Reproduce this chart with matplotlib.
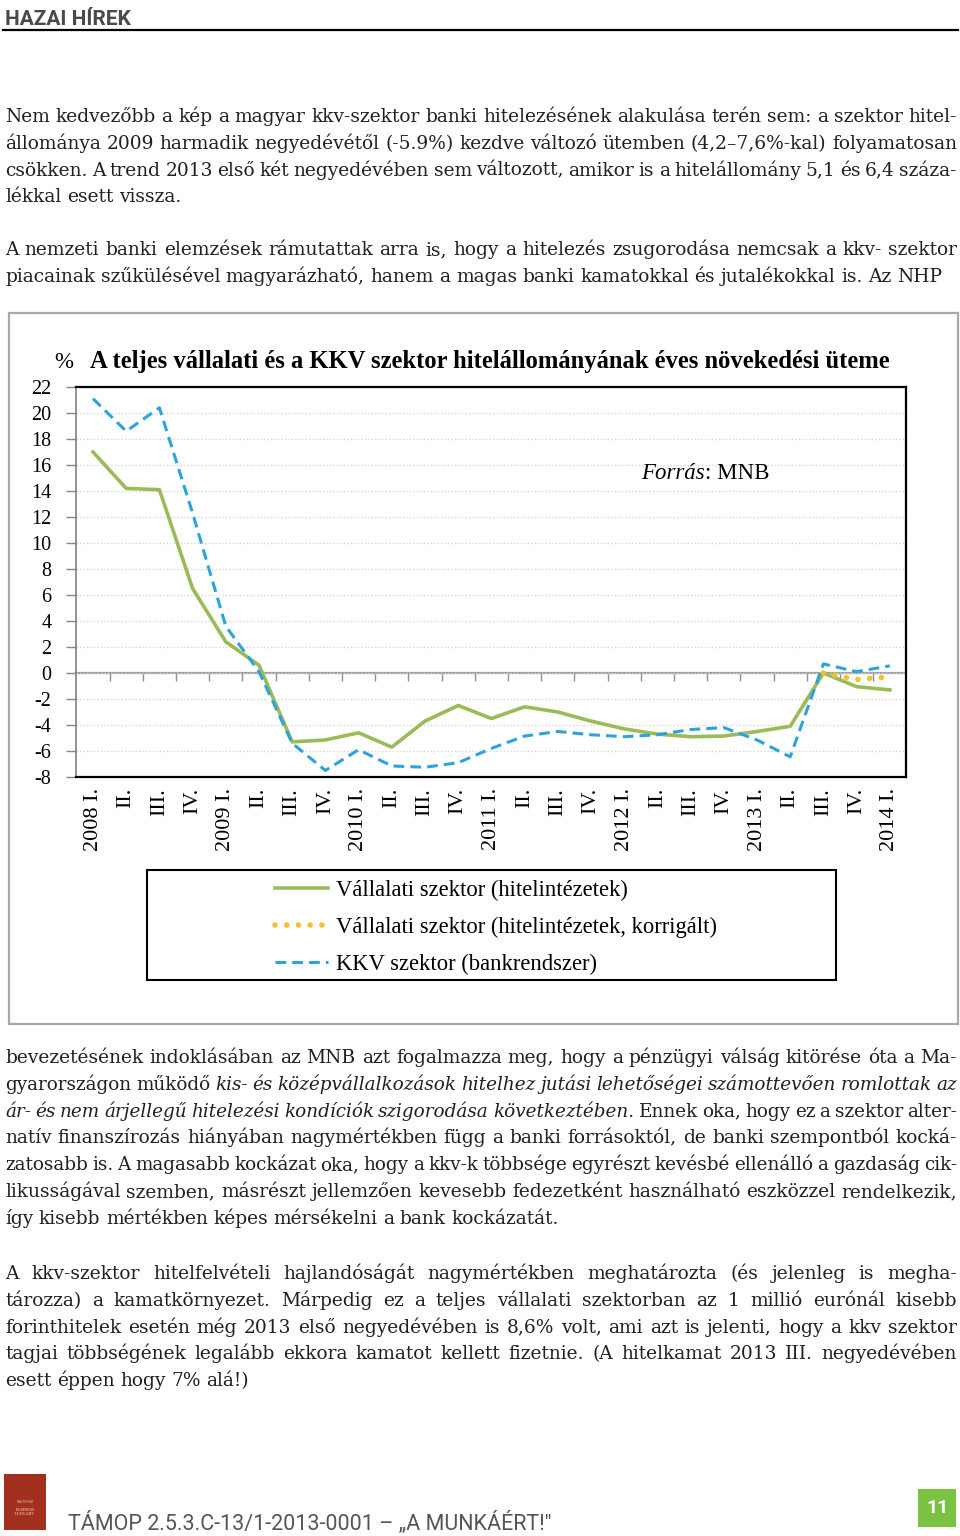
import matplotlib
matplotlib.use("Agg")
import matplotlib.pyplot as plt
from matplotlib.patches import Rectangle
from matplotlib.lines import Line2D
import numpy as np

W, H = 960, 1536

quarters = ["2008 I.", "II.", "III.", "IV.", "2009 I.", "II.", "III.", "IV.",
            "2010 I.", "II.", "III.", "IV.", "2011 I.", "II.", "III.", "IV.",
            "2012 I.", "II.", "III.", "IV.", "2013 I.", "II.", "III.", "IV.", "2014 I."]
vallalati = [17.0, 14.2, 14.1, 6.5, 2.4, 0.6, -5.3, -5.15, -4.6, -5.7, -3.7, -2.5, -3.5,
             -2.6, -3.0, -3.7, -4.3, -4.7, -4.9, -4.85, -4.5, -4.1, 0.0, -1.05, -1.3]
korrigalt_idx = [22, 23, 24]
korrigalt = [0.0, -0.5, -0.3]
kkv = [21.1, 18.6, 20.4, 12.3, 3.6, 0.1, -5.4, -7.5, -5.9, -7.15, -7.25, -6.9, -5.8,
       -4.85, -4.5, -4.75, -4.9, -4.75, -4.35, -4.2, -5.15, -6.45, 0.7, 0.1, 0.55]
series_labels = ["Vállalati szektor (hitelintézetek)",
                 "Vállalati szektor (hitelintézetek, korrigált)",
                 "KKV szektor (bankrendszer)"]
y_ticks = list(range(-8, 23, 2))

chart_title = "A teljes vállalati és a KKV szektor hitelállományának éves növekedési üteme"

# body text: each line is a list of (text, italic) pieces
para1 = [
    [("Nem kedvezőbb a kép a magyar kkv-szektor banki hitelezésének alakulása terén sem: a szektor hitel-", False)],
    [("állománya 2009 harmadik negyedévétől (-5.9%) kezdve változó ütemben (4,2–7,6%-kal) folyamatosan", False)],
    [("csökken. A trend 2013 első két negyedévében sem változott, amikor is a hitelállomány 5,1 és 6,4 száza-", False)],
    [("lékkal esett vissza.", False)],
]
para2 = [
    [("A nemzeti banki elemzések rámutattak arra is, hogy a hitelezés zsugorodása nemcsak a kkv- szektor", False)],
    [("piacainak szűkülésével magyarázható, hanem a magas banki kamatokkal és jutalékokkal is. Az NHP", False)],
]
para3 = [
    [("bevezetésének indoklásában az MNB azt fogalmazza meg, hogy a pénzügyi válság kitörése óta a Ma-", False)],
    [("gyarországon működő", False), ("kis- és középvállalkozások hitelhez jutási lehetőségei számottevően romlottak az", True)],
    [("ár- és nem árjellegű hitelezési kondíciók szigorodása következtében.", True), ("Ennek oka, hogy ez a szektor alter-", False)],
    [("natív finanszírozás hiányában nagymértékben függ a banki forrásoktól, de banki szempontból kocká-", False)],
    [("zatosabb is. A magasabb kockázat oka, hogy a kkv-k többsége egyrészt kevésbé ellenálló a gazdaság cik-", False)],
    [("likusságával szemben, másrészt jellemzően kevesebb fedezetként használható eszközzel rendelkezik,", False)],
    [("így kisebb mértékben képes mérsékelni a bank kockázatát.", False)],
]
para4 = [
    [("A kkv-szektor hitelfelvételi hajlandóságát nagymértékben meghatározta (és jelenleg is megha-", False)],
    [("tározza) a kamatkörnyezet. Márpedig ez a teljes vállalati szektorban az 1 millió eurónál kisebb", False)],
    [("forinthitelek esetén még 2013 első negyedévében is 8,6% volt, ami azt is jelenti, hogy a kkv szektor", False)],
    [("tagjai többségének legalább ekkora kamatot kellett fizetnie. (A hitelkamat 2013 III. negyedévében", False)],
    [("esett éppen hogy 7% alá!)", False)],
]


def fx(x):
    return x / W


def fy(y):
    return 1 - y / H


def draw_line(fig, r, pieces, y, justify, size=13.4, x0=5, x1=957):
    words = []
    for txt, it in pieces:
        for w in txt.split():
            words.append((w, it))
    arts = []
    for w, it in words:
        t = fig.text(0, fy(y), w, fontsize=size, family="DejaVu Serif",
                     style="italic" if it else "normal", color="#231f20",
                     va="baseline", ha="left")
        arts.append(t)
    widths = [t.get_window_extent(r).width for t in arts]
    space = size * 100 / 72 * 0.3
    if justify and len(arts) > 1:
        gap = (x1 - x0 - sum(widths)) / (len(arts) - 1)
        # squeeze the font a bit if the words do not fit
        while gap < size * 100 / 72 * 0.2:
            size *= 0.985
            for t in arts:
                t.set_fontsize(size)
            widths = [t.get_window_extent(r).width for t in arts]
            gap = (x1 - x0 - sum(widths)) / (len(arts) - 1)
    else:
        gap = space
    x = x0
    for t, w in zip(arts, widths):
        t.set_x(fx(x))
        x += w + gap


def draw_para(fig, r, lines, y0, step=26.8):
    for i, pieces in enumerate(lines):
        draw_line(fig, r, pieces, y0 + i * step, justify=(i < len(lines) - 1))


fig = plt.figure(figsize=(W / 100, H / 100), dpi=100)
r = fig.canvas.get_renderer()

# header
fig.text(fx(5), fy(25), "HAZAI HÍREK", fontsize=15, family="Roboto", weight="bold",
         color="#4a4a4a", va="baseline", ha="left")
fig.add_artist(Line2D([fx(3), fx(958)], [fy(29.5), fy(29.5)], color="black", lw=1.6))

draw_para(fig, r, para1, 122)
draw_para(fig, r, para2, 255)
draw_para(fig, r, para3, 1063)
draw_para(fig, r, para4, 1279)

# chart frame
fig.add_artist(Rectangle((fx(9), fy(1024)), 949 / W, 711 / H, transform=fig.transFigure,
                         fill=False, edgecolor="#a8a8a8", lw=1.6))

fig.text(fx(54), fy(368), "%", fontsize=16.5, family="Liberation Serif", va="baseline", ha="left")
fig.text(fx(90), fy(368), chart_title, fontsize=17.7, family="Liberation Serif", weight="bold",
         va="baseline", ha="left")

ax = fig.add_axes([fx(76.4), fy(777), 830 / W, 390 / H])
x = np.arange(len(quarters))
l1, = ax.plot(x, vallalati, color="#9bbb59", lw=2.6, zorder=3, label=series_labels[0])
l2, = ax.plot(korrigalt_idx, korrigalt, color="#f2c12e", lw=4.0, linestyle=(0, (0.01, 2.1)),
              dash_capstyle="round", zorder=4, label=series_labels[1])
l3, = ax.plot(x, kkv, color="#2ea3d9", lw=2.2, linestyle=(0, (3.5, 2)), zorder=5,
              label=series_labels[2])

ax.set_xlim(-0.5, 24.5)
ax.set_ylim(-8, 22)
ax.set_yticks(y_ticks, [str(v) for v in y_ticks])
ax.set_xticks(x, quarters, rotation=90)
for lab in ax.get_xticklabels() + ax.get_yticklabels():
    lab.set_family("Liberation Serif")
ax.tick_params(axis="y", length=7, width=1, color="#888888", pad=11, labelsize=14.5)
ax.tick_params(axis="x", length=0, pad=8, labelsize=16)
ax.grid(axis="y", color="#d6d6d6", lw=1, linestyle=(0, (1, 1.5)), zorder=1)
ax.set_axisbelow(True)
for s in ["top", "right", "bottom"]:
    ax.spines[s].set_color("black")
    ax.spines[s].set_linewidth(1.6)
ax.spines["left"].set_color("#808080")
ax.spines["left"].set_linewidth(1.2)

# zero line with the quarter separators
sec = ax.secondary_xaxis(8 / 30)
sec.set_xticks(np.arange(0.5, 24, 1))
sec.set_xticklabels([])
sec.tick_params(length=6, width=1, color="#909090", direction="out")
sec.spines["bottom"].set_color("#a0a0a0")
sec.spines["bottom"].set_linewidth(1.6)

# source note
t1 = fig.text(fx(641), fy(479), "Forrás", fontsize=16.5, family="Liberation Serif",
              style="italic", va="baseline", ha="left")
w1 = t1.get_window_extent(r).width
fig.text(fx(641 + w1), fy(479), ": MNB", fontsize=16.5, family="Liberation Serif",
         va="baseline", ha="left")

# legend
fig.add_artist(Rectangle((fx(147), fy(980)), 689 / W, 110 / H, transform=fig.transFigure,
                         fill=False, edgecolor="black", lw=1.5))
fig.legend(handles=[l1, l2, l3], loc="upper left", bbox_to_anchor=(fx(275), fy(880)),
           frameon=False, borderpad=0, borderaxespad=0, handlelength=2.35, handletextpad=0.35,
           labelspacing=0.69, prop={"family": "Liberation Serif", "size": 16.3})

# footer
fig.add_artist(Rectangle((fx(4), fy(1530)), 42 / W, 56 / H, transform=fig.transFigure,
                         facecolor="#a3301f", edgecolor="none"))
fig.text(fx(25), fy(1508), "MGYOSZ\n\nBUSINESS\nHUNGARY", fontsize=3, color="#f3dcc8",
         ha="center", va="center", family="Liberation Serif", linespacing=1.1)
fig.text(fx(68), fy(1529), "TÁMOP 2.5.3.C-13/1-2013-0001 – „A MUNKÁÉRT!\"", fontsize=15.5,
         family="Roboto", color="#555555", va="baseline", ha="left")
fig.add_artist(Rectangle((fx(918), fy(1527)), 38 / W, 38 / H, transform=fig.transFigure,
                         facecolor="#7cc242", edgecolor="none"))
fig.text(fx(937), fy(1508), "11", fontsize=14, family="Roboto", weight="bold", color="white",
         ha="center", va="center")

fig.savefig("out.png", dpi=100)
